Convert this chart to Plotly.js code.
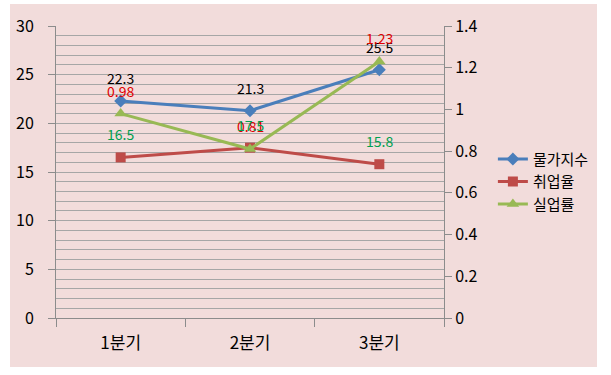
<!DOCTYPE html>
<html>
<head>
<meta charset="utf-8">
<script src="https://cdn.plot.ly/plotly-3.0.1.min.js"></script>
<style>
html,body{margin:0;padding:0;background:#ffffff;width:611px;height:375px;overflow:hidden;}
#chart{position:absolute;left:10px;top:4px;width:587px;height:363px;}
</style>
</head>
<body>
<div id="chart"></div>
<script>
var categories = ['1분기', '2분기', '3분기'];
var priceIndex = [22.3, 21.3, 25.5];      // 물가지수 (left axis)
var employment = [16.5, 17.5, 15.8];      // 취업율 (left axis)
var unemployment = [0.98, 0.81, 1.23];    // 실업률 (right axis)
var seriesNames = ['물가지수', '취업율', '실업률'];

var FONT = '"Noto Sans CJK KR", "Malgun Gothic", sans-serif';

var traces = [
  {x: categories, y: priceIndex, name: seriesNames[0], type: 'scatter', mode: 'lines+markers',
   line: {color: '#4a7ebb', width: 3}, marker: {symbol: 'diamond', size: 10, color: '#4a7ebb'},
   legendgroup: 'a', yaxis: 'y'},
  {x: categories, y: employment, name: seriesNames[1], type: 'scatter', mode: 'lines+markers',
   line: {color: '#be4b48', width: 3}, marker: {symbol: 'square', size: 10, color: '#be4b48'},
   legendgroup: 'b', yaxis: 'y'},
  {x: categories, y: unemployment, name: seriesNames[2], type: 'scatter', mode: 'lines+markers',
   line: {color: '#98b954', width: 3}, marker: {symbol: 'triangle-up', size: 11, color: '#98b954'},
   legendgroup: 'c', yaxis: 'y2'}
];

var annotations = [];
function addLabels(vals, yref, color, fmt) {
  for (var i = 0; i < categories.length; i++) {
    annotations.push({x: categories[i], y: vals[i], xref: 'x', yref: yref,
      text: fmt(vals[i]), showarrow: false, yshift: 23,
      font: {family: FONT, size: 14, color: color}});
  }
}
addLabels(priceIndex, 'y', '#000000', function(v){return v.toFixed(1);});
addLabels(unemployment, 'y2', '#e00000', function(v){return v.toFixed(2);});
addLabels(employment, 'y', '#00a050', function(v){return v.toFixed(1);});

var layout = {
  width: 587, height: 363,
  margin: {l: 46, r: 153, t: 22, b: 49, autoexpand: false},
  paper_bgcolor: '#f2dcdb', plot_bgcolor: '#f2dcdb',
  font: {family: FONT, size: 16, color: '#000000'},
  showlegend: true,
  legend: {x: 1.126, y: 0.60, xanchor: 'left', yanchor: 'top',
    font: {family: FONT, size: 15, color: '#000000'},
    bgcolor: 'rgba(0,0,0,0)', tracegroupgap: 16, traceorder: 'normal'},
  xaxis: {
    type: 'category', range: [-0.5, 2.5], tickson: 'boundaries',
    ticks: 'outside', ticklen: 8, tickcolor: '#8c8c8c', tickwidth: 1,
    showline: true, linecolor: '#8c8c8c', linewidth: 1, automargin: false,
    showgrid: false, zeroline: false, ticklabelstandoff: 10,
    tickfont: {family: FONT, size: 17, color: '#000000'}
  },
  yaxis: {
    range: [0, 30], dtick: 5, tick0: 0, automargin: false,
    ticks: 'outside', ticklen: 7, tickcolor: '#8c8c8c',
    showline: true, linecolor: '#8c8c8c', linewidth: 1,
    showgrid: true, gridcolor: '#a6a6a6', gridwidth: 1,
    minor: {dtick: 1, showgrid: true, gridcolor: '#a6a6a6', gridwidth: 1},
    zeroline: false, ticklabelstandoff: 11,
    tickfont: {family: FONT, size: 16, color: '#000000'}
  },
  yaxis2: {
    range: [0, 1.4], dtick: 0.2, tick0: 0, overlaying: 'y', side: 'right',
    ticks: 'outside', ticklen: 7, tickcolor: '#8c8c8c', automargin: false,
    showline: true, linecolor: '#8c8c8c', linewidth: 1,
    showgrid: false, zeroline: false,
    tickfont: {family: FONT, size: 16, color: '#000000'}
  },
  annotations: annotations
};

Plotly.newPlot('chart', traces, layout, {displayModeBar: false, staticPlot: true});
</script>
</body>
</html>
